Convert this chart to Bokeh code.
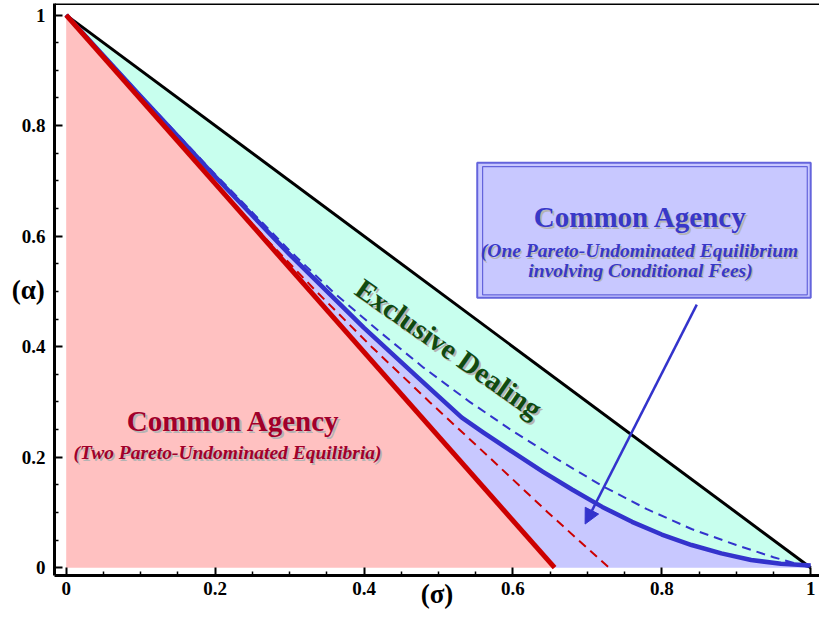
from bokeh.plotting import figure
from bokeh.models import (Range1d, FixedTicker, NumeralTickFormatter, Span,
                          BoxAnnotation, Arrow, NormalHead)
from bokeh.core.properties import value
from bokeh.embed import file_html
from bokeh.resources import INLINE

# ---------------- data ----------------
x_ticks = [0, 0.2, 0.4, 0.6, 0.8, 1.0]
y_ticks = [0, 0.2, 0.4, 0.6, 0.8, 1.0]
minor_ticks = [0.05, 0.1, 0.15, 0.25, 0.3, 0.35, 0.45, 0.5, 0.55,
               0.65, 0.7, 0.75, 0.85, 0.9, 0.95]

black_sigma = [0.0, 1.0]
black_alpha = [1.0, 0.0]

red_sigma = [0.0, 0.656]
red_alpha = [1.0, 0.0]

red_dash_sigma = [0.0, 0.131, 0.265, 0.336, 0.41, 0.488, 0.568, 0.647, 0.729]
red_dash_alpha = [1.0, 0.8, 0.6, 0.5, 0.4, 0.3, 0.2, 0.1, 0.0]

blue_sigma = [0.0, 0.1, 0.2, 0.3, 0.4, 0.47, 0.531, 0.56, 0.60, 0.64, 0.68,
              0.72, 0.76, 0.80, 0.84, 0.88, 0.92, 0.96, 1.0]
blue_alpha = [1.0, 0.853, 0.708, 0.567, 0.434, 0.347, 0.272, 0.245, 0.209,
              0.174, 0.141, 0.110, 0.083, 0.060, 0.041, 0.026, 0.014, 0.007, 0.004]

blue_dash_sigma = [0.0, 0.1, 0.2, 0.3, 0.36, 0.42, 0.48, 0.54, 0.60, 0.66,
                   0.72, 0.78, 0.84, 0.90, 0.95, 1.0]
blue_dash_alpha = [1.0, 0.855, 0.712, 0.574, 0.497, 0.428, 0.362, 0.302, 0.247,
                   0.196, 0.148, 0.106, 0.070, 0.041, 0.019, 0.0]

# ---------------- style ----------------
SERIF = "Liberation Serif"
RED = "#cc0000"
BLUE = "#3333cc"
PINK = "#ffc1c1"
MINT = "#c8ffee"
LAV = "#c8c8ff"
RED_TXT = "#a0002a"
BLUE_TXT = "#3838c8"
GREEN_TXT = "#104a10"
SHADOW = "#b4b4b4"

X0, X1 = -0.01572, 1.01182
Y0, Y1 = -0.01412, 1.02099

p = figure(width=819, height=612, x_range=Range1d(X0, X1), y_range=Range1d(Y0, Y1),
           output_backend="svg", toolbar_location=None,
           min_border_left=54, min_border_right=0, min_border_top=3, min_border_bottom=37)
p.outline_line_color = None
p.xgrid.grid_line_color = None
p.ygrid.grid_line_color = None
p.background_fill_color = "white"
p.border_fill_color = "white"

for ax, tks in ((p.xaxis, x_ticks), (p.yaxis, y_ticks)):
    ax.ticker = FixedTicker(ticks=tks, minor_ticks=minor_ticks)
    ax.formatter = NumeralTickFormatter(format="0.[0]")
    ax.axis_line_width = 3
    ax.axis_line_color = "black"
    ax.major_tick_in = 8
    ax.major_tick_out = 0
    ax.major_tick_line_width = 2
    ax.minor_tick_in = 4
    ax.minor_tick_out = 0
    ax.minor_tick_line_width = 1.5
    ax.major_label_text_font = SERIF
    ax.major_label_text_font_style = "bold"
    ax.major_label_text_font_size = "19px"
    ax.major_label_text_color = "black"
    ax.axis_label_text_font = SERIF
    ax.axis_label_text_font_style = "bold"
    ax.axis_label_text_font_size = "27px"
    ax.axis_label_text_color = "black"
p.xaxis.major_label_standoff = 6
p.yaxis.major_label_standoff = 9
p.xaxis.axis_label = "(\u03c3)"
p.xaxis.axis_label_standoff = -19
p.yaxis.axis_label = "(\u03b1)"
p.yaxis.axis_label_orientation = "horizontal"
p.yaxis.axis_label_standoff = -26

p.add_layout(Span(location=Y1, dimension="width", line_color="black", line_width=3))

# ---------------- filled regions ----------------
pink_x = [red_sigma[0]] + red_sigma
pink_y = [0.0] + red_alpha
p.patch(pink_x, pink_y, fill_color=PINK, line_color=None)

lav_x = blue_sigma + [blue_sigma[-1]] + red_sigma[::-1]
lav_y = blue_alpha + [0.0] + red_alpha[::-1]
p.patch(lav_x, lav_y, fill_color=LAV, line_color=None)

mint_x = black_sigma + blue_sigma[::-1]
mint_y = black_alpha + blue_alpha[::-1]
p.patch(mint_x, mint_y, fill_color=MINT, line_color=None)

# ---------------- box ----------------
p.add_layout(BoxAnnotation(left=0.5521, right=1.0, top=0.7328, bottom=0.4885,
                           fill_color=LAV, fill_alpha=1.0, line_color="#6464dc",
                           line_width=2, line_alpha=1.0, level="underlay"))
p.add_layout(BoxAnnotation(left=0.5593, right=0.9954, top=0.7257, bottom=0.4938,
                           fill_color=None, fill_alpha=0.0, line_color="#6464dc",
                           line_width=1.2, line_alpha=1.0, level="underlay"))

# ---------------- curves ----------------
p.line(black_sigma, black_alpha, line_color="black", line_width=3)
p.line(blue_dash_sigma, blue_dash_alpha, line_color=BLUE, line_width=2, line_dash="9 6")
p.line(red_dash_sigma, red_dash_alpha, line_color=RED, line_width=2, line_dash="9 6")
p.line(blue_sigma, blue_alpha, line_color=BLUE, line_width=4.5, line_join="round")
p.line(red_sigma, red_alpha, line_color=RED, line_width=5)


def shadow_text(x, y, txt, color, size, style, off, align="center",
                baseline="alphabetic", angle=0.0):
    common = dict(text_font=value(SERIF), text_font_size=size, text_font_style=style,
                  text_align=align, text_baseline=baseline, angle=angle)
    p.text(x=[x], y=[y], text=[txt], text_color=SHADOW, x_offset=off, y_offset=off, **common)
    p.text(x=[x], y=[y], text=[txt], text_color=color, **common)


shadow_text(0.2246, 0.2646, "Common Agency", RED_TXT, "29px", "bold", 2)
shadow_text(0.2167, 0.2081, "(Two Pareto-Undominated Equilibria)", RED_TXT, "19.5px",
            "bold italic", 1.5)
shadow_text(0.7714, 0.6355, "Common Agency", BLUE_TXT, "29px", "bold", 2)
shadow_text(0.7701, 0.5737, "(One Pareto-Undominated Equilibrium", BLUE_TXT, "19.5px",
            "bold italic", 1.5)
shadow_text(0.7714, 0.5385, "involving Conditional Fees)", BLUE_TXT, "19.5px",
            "bold italic", 1.5)
shadow_text(0.5138, 0.3968, "Exclusive Dealing", GREEN_TXT, "29px", "bold", 2,
            baseline="middle", angle=-0.611)

# ---------------- arrow ----------------
p.add_layout(Arrow(end=NormalHead(size=15, fill_color=BLUE, line_color=BLUE),
                   x_start=0.847, y_start=0.476, x_end=0.697, y_end=0.079,
                   line_color=BLUE, line_width=2.5))

open("out.html", "w").write(file_html(p, INLINE))
